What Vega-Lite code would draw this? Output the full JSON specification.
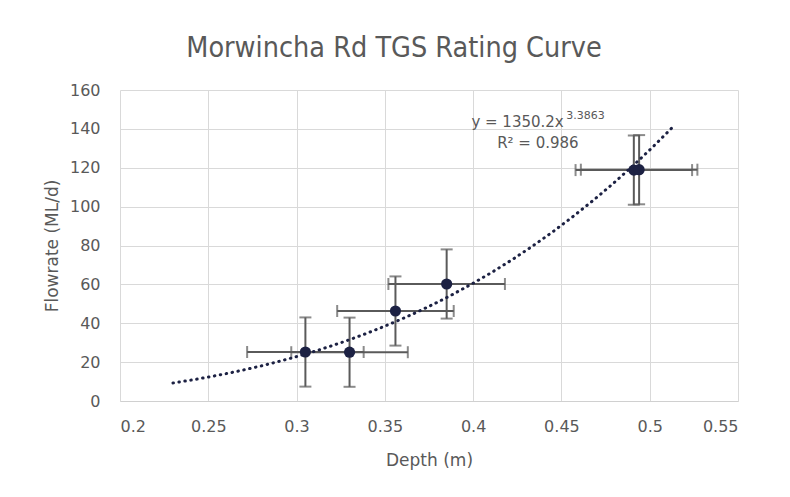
{
  "$schema": "https://vega.github.io/schema/vega-lite/v6.json",
  "width": 618,
  "height": 311,
  "autosize": {"type": "none"},
  "padding": {"left": 120, "top": 90, "right": 52, "bottom": 96},
  "background": "#ffffff",
  "title": {
    "text": "Morwincha Rd TGS Rating Curve",
    "font": "DejaVu Sans Condensed",
    "fontSize": 28.5,
    "fontWeight": "normal",
    "color": "#595959",
    "anchor": "middle",
    "frame": "group",
    "baseline": "alphabetic",
    "dx": -35,
    "dy": 35,
    "offset": 32
  },
  "datasets": {
    "obs": [
      {"depth": 0.305, "flow": 25.2, "xerr": 0.033, "yerr": 17.8},
      {"depth": 0.330, "flow": 25.1, "xerr": 0.033, "yerr": 17.8},
      {"depth": 0.356, "flow": 46.3, "xerr": 0.033, "yerr": 17.8},
      {"depth": 0.385, "flow": 60.2, "xerr": 0.033, "yerr": 17.8},
      {"depth": 0.491, "flow": 118.8, "xerr": 0.033, "yerr": 17.8},
      {"depth": 0.494, "flow": 119.0, "xerr": 0.033, "yerr": 17.8}
    ],
    "notes": [
      {"label": "y = 1350.2x", "kind": "main", "depth": 0.399, "flow": 141.1},
      {"label": "3.3863", "kind": "sup", "depth": 0.4528, "flow": 144.9},
      {"label": "R² = 0.986", "kind": "main", "depth": 0.4136, "flow": 130}
    ]
  },
  "data": {"name": "obs"},
  "encoding": {
    "x": {
      "field": "depth", "type": "quantitative",
      "scale": {"domain": [0.2, 0.55], "nice": false, "zero": false},
      "axis": {"values": [0.2, 0.25, 0.3, 0.35, 0.4, 0.45, 0.5, 0.55], "format": ".2~f", "title": "Depth (m)", "domain": true, "domainColor": "#d0d0d0", "labelPadding": 17, "titlePadding": 18}
    },
    "y": {
      "field": "flow", "type": "quantitative",
      "scale": {"domain": [0, 160], "nice": false},
      "axis": {"values": [0, 20, 40, 60, 80, 100, 120, 140, 160], "title": "Flowrate (ML/d)", "domain": false, "labelPadding": 20, "titlePadding": 8}
    }
  },
  "layer": [
    {
      "mark": {"type": "errorbar", "ticks": {"size": 12}, "color": "#5a5a5a", "thickness": 2},
      "encoding": {
        "xError": {"field": "xerr"}
      }
    },
    {
      "mark": {"type": "errorbar", "ticks": {"size": 12}, "color": "#5a5a5a", "thickness": 2},
      "encoding": {
        "yError": {"field": "yerr"}
      }
    },
    {
      "transform": [{"regression": "flow", "on": "depth", "method": "pow", "extent": [0.23, 0.513]}],
      "mark": {"type": "line", "color": "#1c2143", "strokeWidth": 3, "strokeDash": [0.5, 5.5], "strokeCap": "round"},
      "encoding": {}
    },
    {
      "mark": {"type": "circle", "size": 125, "color": "#1c2143", "opacity": 1}
    },
    {
      "data": {"name": "notes"},
      "mark": {"type": "text", "font": "DejaVu Sans", "color": "#595959", "align": "left", "baseline": "alphabetic"},
      "encoding": {
        "text": {"field": "label"},
        "size": {"field": "kind", "type": "nominal", "scale": {"domain": ["main", "sup"], "range": [15, 11]}, "legend": null}
      }
    }
  ],
  "config": {
    "view": {"stroke": null},
    "axis": {
      "labelFont": "DejaVu Sans",
      "labelFontSize": 16,
      "labelColor": "#595959",
      "titleFont": "DejaVu Sans",
      "titleFontSize": 17,
      "titleFontWeight": "normal",
      "titleColor": "#595959",
      "gridColor": "#d9d9d9",
      "gridWidth": 1,
      "ticks": false
    }
  }
}
